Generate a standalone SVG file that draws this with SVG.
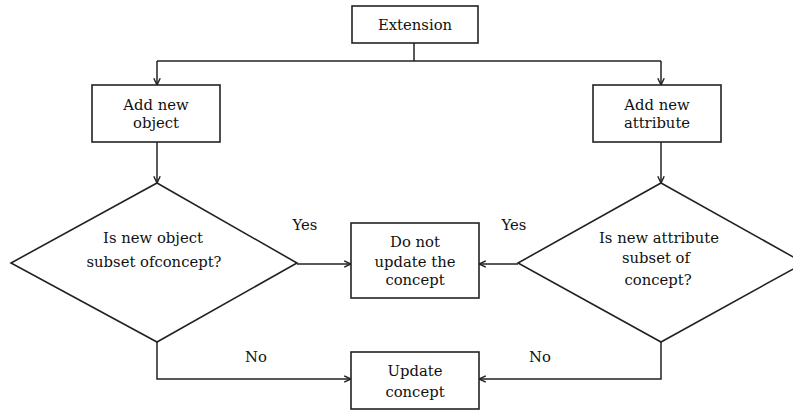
<svg xmlns="http://www.w3.org/2000/svg" width="793" height="410" viewBox="0 0 793 410">
<defs>
<style>
.box{fill:#fff;stroke:#222;stroke-width:1.6}
.ln{fill:none;stroke:#222;stroke-width:1.5}
.t{font-family:"DejaVu Serif","Liberation Serif",serif;font-size:14.8px;fill:#111;text-anchor:middle}
</style>
<marker id="ah" viewBox="0 0 10 10" refX="9.5" refY="5" markerWidth="8" markerHeight="8" markerUnits="userSpaceOnUse" orient="auto">
<path d="M1,1 L9.5,5 L1,9" fill="none" stroke="#222" stroke-width="1.8"/>
</marker>
</defs>
<rect width="793" height="410" fill="#fff"/>
<g id="connectors">
<path class="ln" d="M414,43 V61"/>
<path class="ln" d="M157,61 H661"/>
<path class="ln" d="M157,61 V85" marker-end="url(#ah)"/>
<path class="ln" d="M661,61 V85" marker-end="url(#ah)"/>
<path class="ln" d="M157,142 V183" marker-end="url(#ah)"/>
<path class="ln" d="M661,142 V183" marker-end="url(#ah)"/>
<path class="ln" d="M297,264 H351" marker-end="url(#ah)"/>
<path class="ln" d="M518,264 H479" marker-end="url(#ah)"/>
<path class="ln" d="M157,342 V379 H351" marker-end="url(#ah)"/>
<path class="ln" d="M661,342 V379 H479" marker-end="url(#ah)"/>
<text class="t" x="305" y="230">Yes</text>
<text class="t" x="514" y="230">Yes</text>
<text class="t" x="256" y="362">No</text>
<text class="t" x="540" y="362">No</text>
</g>
<g id="extension">
<rect class="box" x="352" y="6" width="126" height="37"/>
<text class="t" x="415" y="30">Extension</text>
</g>
<g id="add-object">
<rect class="box" x="92" y="85" width="128" height="57"/>
<text class="t" x="156" y="110">Add new</text>
<text class="t" x="156" y="128">object</text>
</g>
<g id="add-attribute">
<rect class="box" x="593" y="85" width="128" height="57"/>
<text class="t" x="657" y="110">Add new</text>
<text class="t" x="657" y="128">attribute</text>
</g>
<g id="object-decision">
<polygon class="box" points="157,183 297,263 157,342 11,263"/>
<text class="t" x="153" y="243">Is new object</text>
<text class="t" x="154" y="267">subset ofconcept?</text>
</g>
<g id="attribute-decision">
<polygon class="box" points="661,183 804,263 661,342 518,263"/>
<text class="t" x="659" y="243">Is new attribute</text>
<text class="t" x="656" y="263">subset of</text>
<text class="t" x="658" y="285">concept?</text>
</g>
<g id="do-not-update">
<rect class="box" x="351" y="223" width="128" height="75"/>
<text class="t" x="415" y="247">Do not</text>
<text class="t" x="415" y="267">update the</text>
<text class="t" x="415" y="285">concept</text>
</g>
<g id="update">
<rect class="box" x="351" y="352" width="128" height="57"/>
<text class="t" x="415" y="376">Update</text>
<text class="t" x="415" y="397">concept</text>
</g>
</svg>
